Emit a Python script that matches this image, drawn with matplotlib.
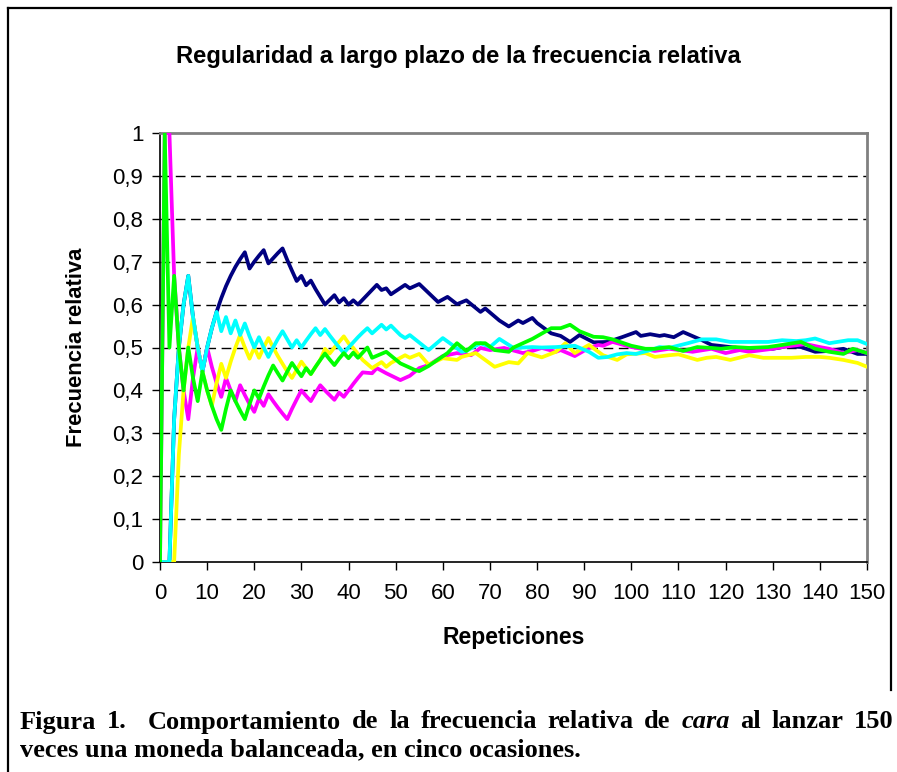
import matplotlib
matplotlib.use("Agg")
import matplotlib.pyplot as plt
from matplotlib.lines import Line2D

# repeticiones / frecuencia relativa de "cara"
azul_n = [0, 1, 2, 3, 4, 5, 6, 7, 8, 9, 10, 11, 12, 13, 14, 15, 16, 17, 18, 19, 20,
          21, 22, 23, 24, 25, 26, 27, 28, 29, 30, 31, 32, 33, 34, 35, 36, 37, 38, 39, 40,
          41, 42, 46, 47, 48, 49, 52, 53, 55, 59, 61, 63, 65, 68, 69, 72, 74, 76, 77, 79,
          80, 83, 85, 87, 89, 92, 95, 98, 101, 102, 104, 106, 107, 109, 111, 115, 117, 121,
          124, 127, 130, 133, 136, 139, 142, 145, 148, 150]
azul = [0, 0, 0, .333, .5, .6, .667, .571, .5, .444, .5, .545, .583, .615, .643, .667, .688,
        .706, .722, .684, .7, .714, .727, .696, .708, .72, .731, .704, .679, .655, .667, .645,
        .656, .636, .618, .6, .611, .622, .605, .615, .6, .61, .6, .646, .634, .638, .624,
        .646, .638, .648, .606, .618, .601, .61, .583, .591, .563, .549, .563, .557, .569,
        .557, .533, .527, .513, .529, .512, .513, .524, .536, .527, .531, .527, .529, .524,
        .536, .517, .506, .501, .497, .499, .497, .503, .501, .49, .492, .497, .485, .485]

magenta_n = [0, 1, 2, 3, 4, 5, 6, 7, 8, 9, 10, 11, 12, 13, 14, 15, 16, 17, 18, 19, 20,
             21, 22, 23, 24, 25, 26, 27, 28, 29, 30, 31, 32, 33, 34, 35, 36, 37, 38, 39, 40,
             41, 42, 43, 45, 46, 48, 51, 53, 55, 57, 60, 63, 66, 68, 70, 73, 76, 77, 79, 81,
             84, 85, 88, 91, 93, 94, 96, 100, 105, 108, 113, 117, 120, 123, 125, 130, 132,
             137, 140, 142, 145, 148, 150]
magenta = [0, 1, 1, .667, .5, .4, .333, .429, .5, .444, .5, .455, .417, .385, .429, .4, .375,
           .412, .389, .368, .35, .381, .364, .391, .375, .36, .346, .333, .357, .379, .4,
           .387, .375, .394, .412, .4, .389, .378, .395, .385, .4, .415, .429, .442, .44,
           .452, .44, .424, .434, .452, .459, .48, .487, .482, .499, .494, .499, .49, .487,
           .492, .499, .49, .494, .48, .499, .506, .504, .513, .501, .492, .497, .49, .497,
           .487, .494, .49, .497, .501, .508, .501, .497, .487, .494, .487]

amarillo_n = [0, 1, 2, 3, 4, 5, 6, 7, 8, 9, 10, 11, 12, 13, 14, 15, 16, 17, 18, 19, 20,
              21, 22, 23, 24, 25, 26, 27, 28, 29, 30, 31, 32, 33, 34, 35, 36, 37, 38, 39,
              40, 41, 43, 45, 47, 48, 49, 52, 53, 55, 57, 60, 63, 64, 67, 71, 74, 76, 78,
              81, 84, 86, 88, 91, 93, 94, 97, 99, 103, 105, 108, 110, 114, 116, 118, 121,
              125, 128, 131, 134, 137, 140, 142, 145, 148, 150]
amarillo = [0, 0, 0, 0, .25, .4, .5, .571, .5, .444, .4, .364, .417, .462, .429, .467, .5,
            .529, .5, .474, .5, .476, .5, .522, .5, .48, .462, .444, .429, .448, .467, .452,
            .438, .455, .471, .497, .486, .5, .513, .526, .51, .499, .471, .452, .466, .455,
            .464, .482, .476, .485, .46, .475, .471, .478, .487, .455, .466, .463, .487, .477,
            .49, .51, .487, .506, .49, .482, .471, .484, .487, .478, .482, .484, .471, .476,
            .478, .471, .482, .476, .476, .476, .478, .478, .476, .471, .464, .455]

cian_n = [0, 1, 2, 3, 4, 5, 6, 7, 8, 9, 10, 11, 12, 13, 14, 15, 16, 17, 18, 19, 20,
          21, 22, 23, 24, 25, 26, 27, 28, 29, 30, 31, 32, 33, 34, 35, 36, 37, 38, 39, 40,
          41, 42, 43, 44, 45, 46, 47, 48, 49, 50, 51, 52, 53, 57, 60, 64, 65, 68, 70, 72,
          75, 79, 81, 84, 88, 91, 93, 95, 97, 99, 101, 104, 106, 108, 112, 115, 118, 121,
          125, 129, 132, 135, 137, 139, 142, 146, 148, 150]
cian = [0, 0, 0, .333, .5, .6, .667, .571, .5, .444, .5, .545, .583, .538, .571, .533, .563,
        .529, .556, .526, .5, .524, .5, .478, .5, .52, .538, .519, .5, .517, .5, .516, .531,
        .545, .529, .543, .528, .514, .5, .487, .5, .512, .524, .535, .545, .533, .543, .553,
        .542, .551, .54, .529, .522, .529, .494, .522, .49, .492, .51, .501, .52, .499, .501,
        .5, .501, .504, .49, .476, .478, .484, .487, .485, .494, .501, .499, .51, .519, .519,
        .513, .513, .513, .517, .515, .517, .521, .51, .517, .517, .508]

verde_n = [0, 1, 2, 3, 4, 5, 6, 7, 8, 9, 10, 11, 12, 13, 14, 15, 16, 17, 18, 19, 20,
           21, 22, 23, 24, 25, 26, 27, 28, 29, 30, 31, 32, 33, 34, 35, 36, 37, 38, 39, 40,
           41, 42, 43, 44, 45, 48, 51, 54, 55, 57, 61, 63, 65, 67, 69, 71, 74, 75, 79, 83,
           85, 87, 89, 92, 94, 96, 100, 103, 105, 108, 111, 114, 117, 119, 122, 125, 129,
           132, 136, 139, 142, 145, 147, 150]
verde = [0, 1, .5, .667, .5, .4, .5, .429, .375, .444, .4, .364, .333, .308, .357, .4, .375,
         .353, .333, .368, .4, .381, .409, .435, .458, .44, .423, .444, .464, .448, .433,
         .452, .438, .455, .471, .486, .472, .459, .474, .487, .475, .488, .476, .488, .5,
         .476, .49, .463, .448, .445, .457, .487, .51, .492, .51, .51, .494, .49, .5, .52,
         .545, .545, .553, .538, .525, .524, .519, .504, .497, .497, .501, .492, .501, .499,
         .497, .501, .499, .501, .506, .513, .497, .49, .485, .497, .487]

series = [(azul_n, azul, "#000080"),
          (magenta_n, magenta, "#FF00FF"),
          (amarillo_n, amarillo, "#FFFF00"),
          (cian_n, cian, "#00FFFF"),
          (verde_n, verde, "#00FF00")]

sans = ["Liberation Sans", "DejaVu Sans"]
serif = ["Liberation Serif", "DejaVu Serif"]

W, H = 897, 772
fig = plt.figure(figsize=(W / 100, H / 100), dpi=100)
ax = fig.add_axes([160 / W, 1 - 562 / H, 707 / W, 429 / H])

for i, (xs, ys, c) in enumerate(series):
    ax.plot(xs, ys, color=c, lw=2.7, zorder=3 + i)

ax.set_xlim(0, 150)
ax.set_ylim(0, 1)
ax.set_xticks(range(0, 151, 10))
ax.set_yticks([i / 10 for i in range(11)])
ax.set_yticklabels(["0"] + ["0,%d" % i for i in range(1, 10)] + ["1"])
for y in [i / 10 for i in range(1, 10)]:
    ax.axhline(y, color="black", lw=1, dashes=(7, 4), zorder=1)

ax.tick_params(axis="both", direction="out", length=6, width=1, color="black")
for lab in ax.get_xticklabels() + ax.get_yticklabels():
    lab.set_family(sans)
    lab.set_fontsize(16)
ax.tick_params(axis="x", pad=9)
ax.tick_params(axis="y", pad=6)

for s in ["top", "right"]:
    ax.spines[s].set_color("#808080")
    ax.spines[s].set_linewidth(2)
for s in ["left", "bottom"]:
    ax.spines[s].set_color("black")
    ax.spines[s].set_linewidth(1.2)

ax.set_xlabel("Repeticiones", family=sans, fontsize=16.5, fontweight="bold", labelpad=16)
ax.set_ylabel("Frecuencia relativa", family=sans, fontsize=15.8, fontweight="bold",
              labelpad=18)

fig.text(458 / W, 1 - 57 / H, "Regularidad a largo plazo de la frecuencia relativa",
         family=sans, fontsize=17.1, fontweight="bold", ha="center", va="center")

# marco exterior
fig.add_artist(Line2D([8 / W, 8 / W], [0, 1 - 8 / H], color="black", lw=1.6))
fig.add_artist(Line2D([8 / W, 891 / W], [1 - 8 / H, 1 - 8 / H], color="black", lw=1.6))
fig.add_artist(Line2D([891 / W, 891 / W], [1 - 8 / H, 1 - 690 / H], color="black", lw=1.6))

# pie de figura (primera linea justificada)
fig.canvas.draw()
r = fig.canvas.get_renderer()
fs = 19
y1 = 1 - 722 / H
palabras = [("Figura", "normal"), ("1.", "normal"), ("", "normal"),
            ("Comportamiento", "normal"), ("de", "normal"), ("la", "normal"),
            ("frecuencia", "normal"), ("relativa", "normal"), ("de", "normal"),
            ("cara", "italic"), ("al", "normal"), ("lanzar", "normal"), ("150", "normal")]
textos = [fig.text(0, y1, w, family=serif, fontsize=fs, fontweight="bold", style=st,
                   va="center") for w, st in palabras]
anchos = [t.get_window_extent(r).width for t in textos]
x0, x1 = 20, 894
hueco = (x1 - x0 - sum(anchos)) / (len(textos) - 1)
x = x0
for t, a in zip(textos, anchos):
    t.set_x(x / W)
    x += a + hueco
fig.text(20 / W, 1 - 750 / H, "veces una moneda balanceada, en cinco ocasiones.",
         family=serif, fontsize=fs, fontweight="bold", va="center")

fig.savefig("out.png", dpi=100)
